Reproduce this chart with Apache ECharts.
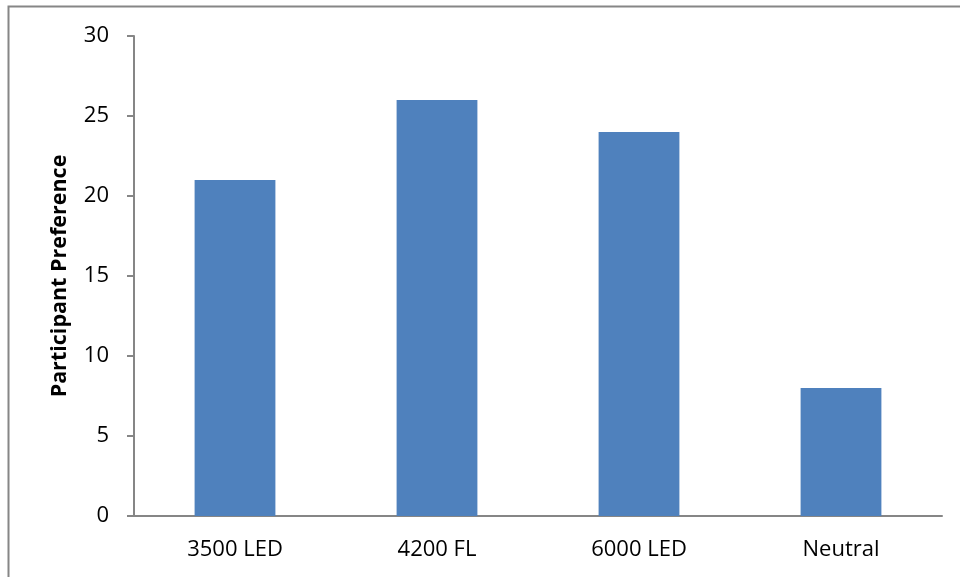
<!DOCTYPE html>
<html>
<head>
<meta charset="utf-8">
<script src="https://cdn.jsdelivr.net/npm/echarts@6/dist/echarts.min.js"></script>
<style>
  html, body { margin: 0; padding: 0; background: #fff; }
  #chart { width: 960px; height: 577px; }
</style>
</head>
<body>
<div id="chart"></div>
<script>
// 数据
const categories = ['3500 LED', '4200 FL', '6000 LED', 'Neutral'];
const preferenceValues = [21, 26, 24, 8];
const yTicks = [0, 5, 10, 15, 20, 25, 30];

const chart = echarts.init(document.getElementById('chart'));

const option = {
    backgroundColor: '#fff',
    animation: false,
    textStyle: { fontFamily: 'Open Sans' },
    graphic: [
        {
            type: 'rect',
            shape: { x: 8.5, y: 6.5, width: 1000, height: 1000 },
            style: { fill: 'none', stroke: '#868686', lineWidth: 2 },
            silent: true
        }
    ],
    grid: {
        left: 134,
        right: 18,
        top: 36,
        bottom: 61
    },
    xAxis: {
        type: 'category',
        data: categories,
        axisLine: { lineStyle: { color: '#868686', width: 2 } },
        axisTick: { show: false },
        axisLabel: { color: '#000', fontSize: 22, margin: 23 }
    },
    yAxis: {
        type: 'value',
        min: yTicks[0],
        max: yTicks[yTicks.length - 1],
        interval: 5,
        name: 'Participant Preference',
        nameLocation: 'middle',
        nameGap: 63,
        nameTextStyle: { color: '#000', fontSize: 21.5, fontWeight: 'bold' },
        splitLine: { show: false },
        axisLine: { show: true, lineStyle: { color: '#868686', width: 2 } },
        axisTick: { show: true, length: 7, lineStyle: { color: '#868686', width: 2 } },
        axisLabel: { color: '#000', fontSize: 22, margin: 25 }
    },
    series: [
        {
            type: 'bar',
            data: preferenceValues,
            barWidth: '40%',
            itemStyle: { color: '#4F81BD' }
        }
    ]
};

chart.setOption(option);
</script>
</body>
</html>
